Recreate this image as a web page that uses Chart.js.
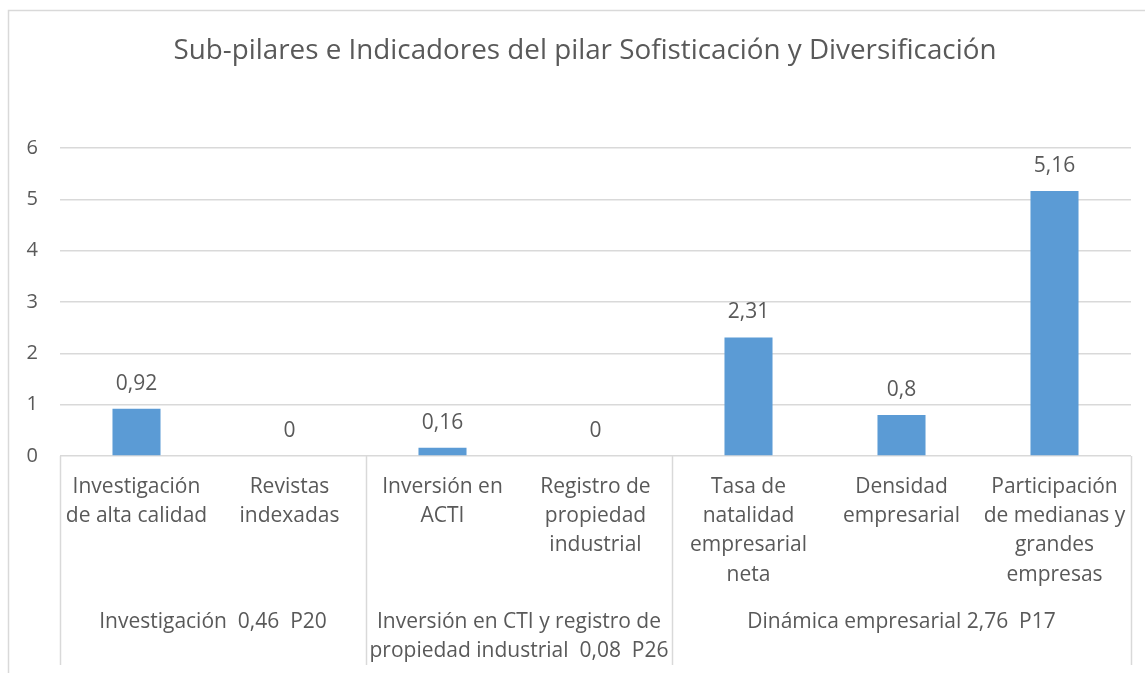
<!DOCTYPE html>
<html>
<head>
<meta charset="utf-8">
<script src="https://cdn.jsdelivr.net/npm/chart.js@4.4.1/dist/chart.umd.min.js"></script>
<style>
  body { margin: 0; background: #fff; }
</style>
</head>
<body>
<canvas id="pilarChart" width="1145" height="673"></canvas>
<script>
const chartTitle = 'Sub-pilares e Indicadores del pilar Sofisticación y Diversificación';
const categories = [
  ['Investigación', 'de alta calidad'],
  ['Revistas', 'indexadas'],
  ['Inversión en', 'ACTI'],
  ['Registro de', 'propiedad', 'industrial'],
  ['Tasa de', 'natalidad', 'empresarial', 'neta'],
  ['Densidad', 'empresarial'],
  ['Participación', 'de medianas y', 'grandes', 'empresas']
];
const values = [0.92, 0, 0.16, 0, 2.31, 0.8, 5.16];
const groupLabels = [
  ['Investigación  0,46  P20'],
  ['Inversión en CTI y registro de', 'propiedad industrial  0,08  P26'],
  ['Dinámica empresarial 2,76  P17']
];
const groupSizes = [2, 2, 3];
const yTicks = [0, 1, 2, 3, 4, 5, 6];

const textColor = '#595959';
const lineColor = '#D9D9D9';
const fontFamily = '"Open Sans", "Noto Sans", sans-serif';

function fmt(v) {
  return String(v).replace('.', ',');
}

// frame, title, value labels, group separators and group names
const decorPlugin = {
  id: 'decor',
  beforeDraw(chart) {
    const ctx = chart.ctx;
    ctx.save();
    ctx.strokeStyle = lineColor;
    ctx.lineWidth = 1.5;
    ctx.strokeRect(8.5, 10.5, 1160, 700);
    ctx.fillStyle = textColor;
    ctx.font = '27.8px ' + fontFamily;
    ctx.textAlign = 'center';
    ctx.textBaseline = 'middle';
    ctx.fillText(chartTitle, 585, 51);
    ctx.restore();
  },
  afterDraw(chart) {
    const ctx = chart.ctx;
    const area = chart.chartArea;
    const ys = chart.scales.y;
    const meta = chart.getDatasetMeta(0);
    ctx.save();
    ctx.fillStyle = textColor;
    ctx.textAlign = 'center';
    ctx.textBaseline = 'middle';
    ctx.font = '21px ' + fontFamily;
    meta.data.forEach((bar, i) => {
      ctx.fillText(fmt(values[i]), bar.x, ys.getPixelForValue(values[i]) - 25);
    });

    // group separators
    const step = (area.right - area.left) / categories.length;
    ctx.strokeStyle = lineColor;
    ctx.lineWidth = 1.5;
    let idx = 0;
    const edges = [area.left];
    groupSizes.forEach(n => { idx += n; edges.push(area.left + idx * step); });
    edges.forEach(x => {
      ctx.beginPath();
      ctx.moveTo(Math.round(x) + 0.5, area.bottom);
      ctx.lineTo(Math.round(x) + 0.5, 665);
      ctx.stroke();
    });

    ctx.font = '21px ' + fontFamily;
    groupLabels.forEach((lines, g) => {
      const cx = (edges[g] + edges[g + 1]) / 2;
      lines.forEach((t, k) => ctx.fillText(t, cx, 622 + k * 29.4));
    });
    ctx.restore();
  }
};

new Chart(document.getElementById('pilarChart').getContext('2d'), {
  type: 'bar',
  data: {
    labels: categories,
    datasets: [{
      data: values,
      backgroundColor: '#5B9BD5',
      borderWidth: 0,
      categoryPercentage: 1,
      barPercentage: 0.314
    }]
  },
  options: {
    responsive: false,
    animation: false,
    events: [],
    layout: {
      padding: { left: 10, right: 14, top: 148, bottom: 0 }
    },
    plugins: {
      legend: { display: false },
      tooltip: { enabled: false }
    },
    scales: {
      x: {
        grid: { display: false, drawTicks: false },
        border: { display: false },
        ticks: {
          autoSkip: false,
          maxRotation: 0,
          padding: 16,
          color: textColor,
          font: { family: fontFamily, size: 21, lineHeight: 1.4 }
        },
        afterFit(scale) { scale.height = 217; }
      },
      y: {
        min: 0,
        max: 6,
        afterBuildTicks(scale) { scale.ticks = yTicks.map(v => ({ value: v })); },
        grid: { color: lineColor, lineWidth: 1.5, drawTicks: false },
        border: { display: false },
        ticks: {
          padding: 22,
          color: textColor,
          font: { family: fontFamily, size: 20 }
        },
        afterFit(scale) { scale.width = 50; }
      }
    }
  },
  plugins: [decorPlugin]
});
</script>
</body>
</html>
